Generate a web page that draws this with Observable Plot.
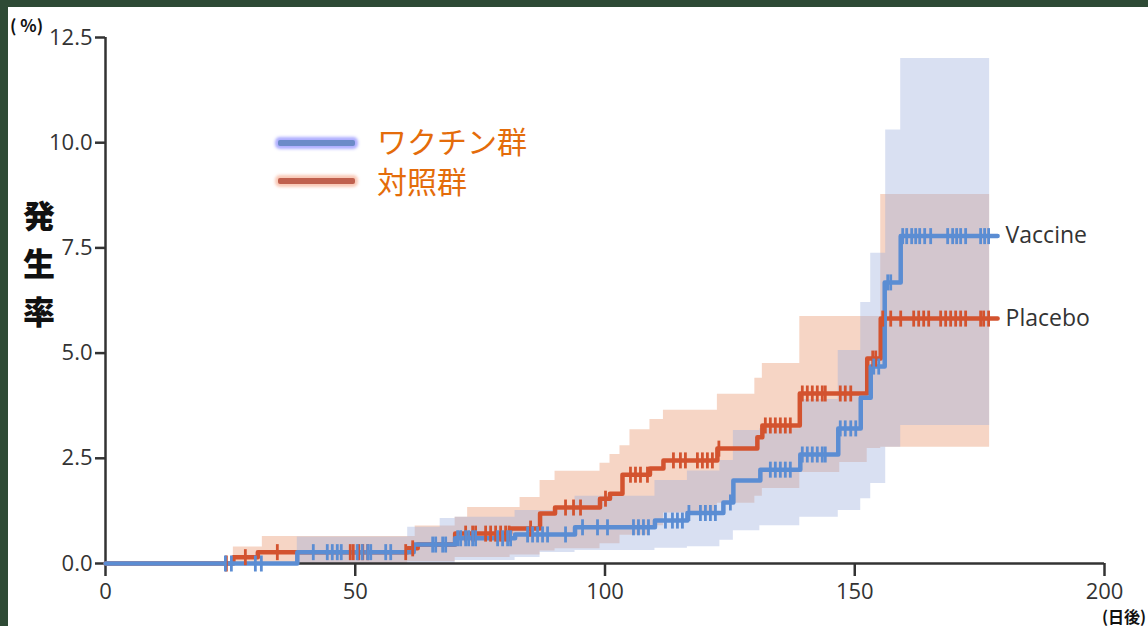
<!DOCTYPE html>
<html><head><meta charset="utf-8">
<script src="https://cdn.jsdelivr.net/npm/d3@7"></script>
<script src="https://cdn.jsdelivr.net/npm/@observablehq/plot@0.6"></script>
<style>
html,body{margin:0;padding:0;background:#2e4a35;width:1148px;height:626px;overflow:hidden;}
#panel{position:absolute;left:8px;top:7px;width:1140px;height:619px;background:#fff;}
.ov{position:absolute;white-space:nowrap;line-height:1;}
#chart svg g[aria-label="x-axis tick"], #chart svg g[aria-label="y-axis tick"]{stroke-width:2.5px;}
#chart svg g[aria-label="x-axis"] .tick line, #chart svg g[aria-label="y-axis"] .tick line{stroke-width:2.5px;}
.sw{position:absolute;width:77px;height:6px;border-radius:2px;}
</style></head><body>
<div id="panel"><div id="chart"></div></div>
<div class="ov" style="left:10px;top:12px;font:700 17px 'Noto Sans CJK JP';color:#111;">( %)</div>
<div class="ov" style="left:19px;top:190px;font:900 32px 'Noto Sans CJK JP';color:#111;text-align:center;width:40px;line-height:48px;white-space:normal;">発<br>生<br>率</div>
<div class="ov" style="right:2px;top:604px;font:700 16px 'Noto Sans CJK JP';color:#111;">(日後)</div>
<div class="sw" style="left:278px;top:140px;background:#6b8bc8;box-shadow:0 0 3px 3px rgba(130,130,255,0.65);"></div>
<div class="sw" style="left:278px;top:178px;background:#c0604e;box-shadow:0 0 3px 3px rgba(245,165,135,0.6);"></div>
<div class="ov" style="left:377px;top:123px;font:400 30px 'Noto Sans CJK JP';color:#e46c0a;line-height:34px;height:34px;">ワクチン群</div>
<div class="ov" style="left:377px;top:163px;font:400 30px 'Noto Sans CJK JP';color:#e46c0a;line-height:34px;height:34px;">対照群</div>
<script>
// ---- data (days, cumulative incidence %) ----
const lineEnd = 178.6;
const bandEnd = 177;
const xTicks = [0, 50, 100, 150, 200];
const yTicks = [0, 2.5, 5, 7.5, 10, 12.5];
const seriesNames = ["Vaccine", "Placebo"];

const vaccineSteps = [[0,0],[38.4,0.27],[61.7,0.45],[70,0.6],[82,0.69],[94,0.86],[110,1.02],[116.5,1.2],[123.7,1.45],[125.7,1.97],[131.1,2.23],[139.1,2.59],[146.7,3.21],[151.2,3.94],[153.2,4.68],[156,6.68],[159.2,7.78]];
const placeboSteps = [[0,0],[25.6,0.15],[30.5,0.27],[60.5,0.36],[62.5,0.45],[70,0.71],[81,0.83],[87,1.19],[90,1.33],[99,1.54],[101,1.66],[103.5,2.11],[109,2.26],[111.7,2.45],[122.5,2.73],[130.5,3.0],[131.5,3.28],[139,4.04],[152.5,4.87],[155.2,5.82]];

const vaccineCensor = [24.0,25.2,30.0,31.2,41.6,44.4,45.4,46.4,47.2,50.4,51.4,52.5,53.1,56.1,57.1,65.5,66.1,67.5,68.1,70.5,71.1,72.1,72.7,73.5,74.1,78.5,79.5,80.5,81.1,84.5,85.5,86.5,87.5,88.5,92.1,95.5,98.5,100.5,105.7,106.7,107.7,108.7,112.1,113.5,114.5,115.5,116.8,119.1,120.1,121.1,122.1,125.1,133.1,134.1,135.1,136.1,137.1,139.5,140.5,141.5,142.5,143.5,144.1,147.1,148.1,149.2,150.2,153.8,154.8,156.6,157.2,159.6,160.4,161.4,162.2,163.0,164.0,165.2,168.6,169.6,170.4,171.2,172.2,175.2,176.0,176.8];
const placeboCensor = [24.2,28.0,34.4,49.0,49.6,50.7,51.5,52.5,60.1,61.5,72.1,73.5,74.1,76.1,77.1,78.1,79.1,80.1,80.8,85.1,92.1,93.7,95.1,100.1,105.1,106.1,107.1,108.5,113.7,115.1,116.1,118.5,119.5,120.5,121.5,122.8,132.1,133.1,134.1,135.1,136.1,137.1,139.5,140.5,141.5,142.5,143.5,144.1,147.1,148.1,149.2,153.6,154.2,155.6,157.2,159.2,161.8,162.8,163.8,164.8,167.2,168.2,169.2,170.2,171.2,172.2,175.2,175.8,176.8];

// [start day, lower, upper] of the 95% band
const vaccineBand = [[38.4,0,0.63],[60.5,0,0.86],[67,0,1.07],[70,0.07,1.1],[82,0.14,1.26],[87,0.26,1.26],[94,0.31,1.6],[110,0.36,1.97],[116.5,0.4,2.2],[123,0.55,2.45],[125.7,0.78,3.16],[131,0.9,3.2],[139,1.1,3.9],[146.7,1.26,5.06],[151.2,1.54,6.2],[153.2,1.9,7.37],[156.2,2.76,10.3],[159.2,3.28,12.0]];
const placeboBand = [[25.6,0,0.39],[31.4,0,0.64],[60.5,0.04,0.64],[62,0.04,0.89],[70,0.14,1.1],[72.5,0.14,1.33],[81,0.2,1.33],[83,0.2,1.57],[87,0.3,1.97],[90,0.35,2.19],[99,0.47,2.38],[101,0.47,2.59],[103,0.67,2.8],[105,0.67,3.18],[109,0.9,3.42],[111.7,1.2,3.64],[122.5,1.43,4.02],[130,1.6,4.4],[131.5,1.78,4.75],[139,2.16,5.87],[147,2.4,5.87],[152.5,2.73,5.87],[155.2,2.76,8.77]];

// ---- helpers ----
function toLine(steps, end){ const p = steps.map(([d,v]) => ({day:d, value:v})); p.push({day:end, value:steps[steps.length-1][1]}); return p; }
function valueAt(steps, day){ let v = steps[0][1]; for (const [d,val] of steps) if (d <= day) v = val; return v; }
function toBand(rows, end){ const r = rows.map(([d,lo,hi]) => ({day:d, lo, hi})); const l = rows[rows.length-1]; r.push({day:end, lo:l[1], hi:l[2]}); return r; }
const vbar = {draw(ctx, size){ const h = Math.sqrt(size/Math.PI); ctx.moveTo(0,-h); ctx.lineTo(0,h); }};

const blue = "#5b8dd3", red = "#d3532f";
const vLine = toLine(vaccineSteps, lineEnd), pLine = toLine(placeboSteps, lineEnd);
const vTicks = vaccineCensor.map(d => ({day:d, value:valueAt(vaccineSteps, d)}));
const pTicks = placeboCensor.map(d => ({day:d, value:valueAt(placeboSteps, d)}));
const labels = [
  {name:seriesNames[0], day:lineEnd, value:vaccineSteps[vaccineSteps.length-1][1]},
  {name:seriesNames[1], day:lineEnd, value:placeboSteps[placeboSteps.length-1][1]}
];

const chart = Plot.plot({
  width:1140, height:619,
  marginLeft:97, marginRight:44, marginTop:30, marginBottom:63,
  style:{fontFamily:"'Open Sans', sans-serif", fontSize:"22px", color:"#333", background:"transparent", overflow:"visible"},
  x:{domain:[0,200], ticks:xTicks, tickSize:13, tickPadding:7, label:null, tickFormat:d => String(d)},
  y:{domain:[0,12.5], ticks:yTicks, tickSize:10, tickPadding:3, label:null, tickFormat:d => d.toFixed(1)},
  marks:[
    Plot.areaY(toBand(placeboBand, bandEnd), {x:"day", y1:"lo", y2:"hi", curve:"step-after", fill:"#eaa27f", fillOpacity:0.45}),
    Plot.areaY(toBand(vaccineBand, bandEnd), {x:"day", y1:"lo", y2:"hi", curve:"step-after", fill:"#9aaedc", fillOpacity:0.38}),
    Plot.ruleY([0], {stroke:"#333", strokeWidth:2.5}),
    Plot.ruleX([0], {y1:0, y2:12.5, stroke:"#333", strokeWidth:2.5}),
    Plot.line(pLine, {x:"day", y:"value", curve:"step-after", stroke:red, strokeWidth:4.5}),
    Plot.line(vLine, {x:"day", y:"value", curve:"step-after", stroke:blue, strokeWidth:4.5}),
    Plot.dot(pTicks, {x:"day", y:"value", symbol:vbar, r:8, stroke:red, strokeWidth:2.8, fill:"none"}),
    Plot.dot(vTicks, {x:"day", y:"value", symbol:vbar, r:8, stroke:blue, strokeWidth:2.8, fill:"none"}),
    Plot.text(labels, {x:"day", y:"value", text:"name", dx:8, textAnchor:"start", fontSize:23, fill:"#333", fontFamily:"'Open Sans', sans-serif"})
  ]
});
document.getElementById("chart").appendChild(chart);
</script>
</body></html>
